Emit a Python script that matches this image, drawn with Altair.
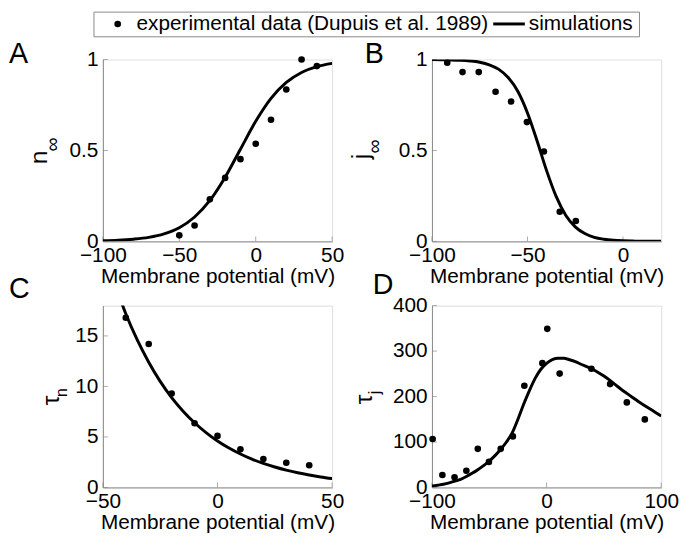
import altair as alt
import pandas as pd

FONT = "Liberation Sans"

# ---------- Panel A: n_inf ----------
a_dot_v = [-50, -40, -30, -20, -10, 0, 10, 20, 30, 40]
a_dot_y = [0.033, 0.087, 0.231, 0.349, 0.452, 0.537, 0.669, 0.835, 1.0, 0.964]
a_sim_v = [-100, -90, -80, -70, -60, -50, -40, -30, -20, -10, 0, 10, 20, 30, 40, 50]
a_sim_y = [0.003, 0.006, 0.012, 0.022, 0.041, 0.075, 0.134, 0.225, 0.353, 0.507,
           0.660, 0.786, 0.874, 0.929, 0.961, 0.979]

# ---------- Panel B: j_inf ----------
b_dot_v = [-92, -84, -75.5, -66.7, -58.6, -50.3, -41.4, -33.1, -24.7]
b_dot_y = [0.982, 0.931, 0.931, 0.823, 0.769, 0.656, 0.494, 0.163, 0.112]
b_sim_v = [-100, -95, -90, -85, -80, -75, -70, -65, -60, -55, -50, -45, -40, -35,
           -30, -25, -20, -15, -10, -5, 0, 5, 10, 15, 20]
b_sim_y = [0.9995, 0.9989, 0.998, 0.996, 0.992, 0.985, 0.971, 0.946, 0.900, 0.824,
           0.706, 0.553, 0.389, 0.247, 0.144, 0.080, 0.043, 0.022, 0.0117, 0.006,
           0.003, 0.0016, 0.0008, 0.0004, 0.0002]

# ---------- Panel C: tau_n ----------
c_dot_v = [-40, -30, -20, -10, 0, 10, 20, 30, 40]
c_dot_y = [16.8, 14.2, 9.3, 6.36, 5.1, 3.77, 2.82, 2.44, 2.2]
c_sim_v = [-50, -45, -40, -35, -30, -25, -20, -15, -10, -5, 0, 5, 10, 15, 20, 25,
           30, 35, 40, 45, 50]
c_sim_y = [24.0, 20.3, 17.2, 14.6, 12.4, 10.5, 8.9, 7.55, 6.4, 5.43, 4.6, 3.9, 3.31,
           2.8, 2.38, 2.02, 1.71, 1.45, 1.23, 1.04, 0.88]

# ---------- Panel D: tau_j ----------
d_dot_v = [-99.4, -90.9, -80.3, -70, -60, -50.3, -40, -29.4, -19.4, -3.7, 0.6, 11.4,
           39.1, 55.4, 70, 85.7]
d_dot_y = [106.5, 27.3, 22.3, 36.7, 84.9, 56.1, 84.9, 112.2, 223.7, 273.4, 348.9,
           250.4, 261.2, 227.3, 187, 149.6]
d_sim_v = [-100, -95, -90, -85, -80, -75, -70, -65, -60, -55, -50, -45, -40, -35,
           -30, -25, -20, -15, -10, -5, 0, 5, 10, 15, 20, 25, 30, 35, 40, 45, 50,
           55, 60, 65, 70, 75, 80, 85, 90, 95, 100]
d_sim_y = [3, 5, 7, 10, 14, 18, 24, 31, 39, 48, 58, 70, 84, 100, 120, 150, 183, 213,
           240, 260, 273, 281, 284, 284, 281, 277, 271, 266, 260, 253, 245, 236, 226,
           216, 207, 198, 189, 181, 173, 165, 157]

XTITLE = "Membrane potential (mV)"
AXCOL = "#888888"
W, H = 232, 184


def label(txt, x, y, size, angle=0, align="left", baseline="alphabetic"):
    return alt.Chart(pd.DataFrame({"t": [txt]})).mark_text(
        font=FONT, fontSize=size, angle=angle, align=align, baseline=baseline,
        color="black"
    ).encode(text="t:N", x=alt.value(x), y=alt.value(y))


def panel(dv, dy, sv, sy, xdom, xticks, ydom, yticks, extras):
    xenc = alt.X("V:Q", scale=alt.Scale(domain=xdom, nice=False, zero=False),
                 axis=alt.Axis(values=xticks, format="~r", title=XTITLE, grid=False,
                               ticks=False, domainColor=AXCOL, labelFont=FONT,
                               labelFontSize=21, labelColor="black", labelPadding=3,
                               labelFlush=False, labelOverlap=False, titleFont=FONT,
                               titleFontSize=21, titleFontWeight="normal",
                               titleColor="black", titleY=42,
                               titleBaseline="alphabetic"))
    yenc = alt.Y("y:Q", scale=alt.Scale(domain=ydom, nice=False, zero=False),
                 axis=alt.Axis(values=yticks, format="~r", title=None, grid=False,
                               ticks=False, domainColor=AXCOL, labelFont=FONT,
                               labelFontSize=21, labelColor="black", labelPadding=5,
                               labelFlush=False, labelOverlap=False))
    # inward (MATLAB style) tick marks at the tick values
    xt = alt.Chart(pd.DataFrame({"V": xticks})).mark_tick(
        color=AXCOL, size=5, thickness=1).encode(x=xenc, y=alt.value(H - 2.5))
    yt = alt.Chart(pd.DataFrame({"y": yticks})).mark_tick(
        color=AXCOL, size=5, thickness=1).encode(y=yenc, x=alt.value(2.5))
    sim = alt.Chart(pd.DataFrame({"V": sv, "y": sy})).mark_line(
        color="black", strokeWidth=3, interpolate="monotone", clip=True
    ).encode(x=xenc, y=yenc)
    dots = alt.Chart(pd.DataFrame({"V": dv, "y": dy})).mark_circle(
        color="black", opacity=1, size=45
    ).encode(x=xenc, y=yenc)
    return alt.layer(*extras, xt, yt, sim, dots).properties(width=W, height=H)


one = pd.DataFrame({"k": [0]})
anchor = alt.Chart(one).mark_rect(fill="white").encode(
    x=alt.value(-95), x2=alt.value(-94), y=alt.value(-48), y2=alt.value(-47))
legend_box = alt.Chart(one).mark_rect(fill="white", stroke=AXCOL, strokeWidth=1).encode(
    x=alt.value(-9), x2=alt.value(543), y=alt.value(-48), y2=alt.value(-23))
legend_dot = alt.Chart(one).mark_circle(color="black", opacity=1, size=45).encode(
    x=alt.value(15), y=alt.value(-36))
legend_line = alt.Chart(one).mark_rule(color="black", strokeWidth=3).encode(
    x=alt.value(395), x2=alt.value(427), y=alt.value(-36))

A = panel(a_dot_v, a_dot_y, a_sim_v, a_sim_y, [-100, 50], [-100, -50, 0, 50],
          [0, 1], [0, 0.5, 1],
          [anchor, legend_box, legend_dot, legend_line,
           label("experimental data (Dupuis et al. 1989)", 34, -36, 21, baseline="middle"),
           label("simulations", 431, -36, 21, baseline="middle"),
           label("A", -95, 3, 29),
           label("n", -65, 99, 25, angle=270, align="center", baseline="middle"),
           label("∞", -50, 86, 20, angle=270, align="center", baseline="middle")])

B = panel(b_dot_v, b_dot_y, b_sim_v, b_sim_y, [-100, 20], [-100, -50, 0],
          [0, 1], [0, 0.5, 1],
          [label("B", -68, 3, 29),
           label("j", -72, 98, 25, angle=270, align="center", baseline="middle"),
           label("∞", -58, 88, 20, angle=270, align="center", baseline="middle")])

C = panel(c_dot_v, c_dot_y, c_sim_v, c_sim_y, [-50, 50], [-50, 0, 50],
          [0, 18], [0, 5, 10, 15],
          [label("C", -95, -8, 29),
           label("τ", -52, 96, 25, angle=270, align="center", baseline="middle"),
           label("n", -41, 88, 16, angle=270, align="center", baseline="middle")])

D = panel(d_dot_v, d_dot_y, d_sim_v, d_sim_y, [-100, 100], [-100, 0, 100],
          [0, 400], [0, 100, 200, 300, 400],
          [label("D", -60, -12, 29),
           label("τ", -69, 95, 25, angle=270, align="center", baseline="middle"),
           label("j", -58, 88, 16, angle=270, align="center", baseline="middle")])

chart = alt.concat(A, B, C, D, columns=2, spacing={"row": 65, "column": 101},
                   bounds="flush").properties(padding=0).configure_view(
    stroke=None).configure(font=FONT)

chart.save("out.html", embed_options={"renderer": "svg", "actions": False})
